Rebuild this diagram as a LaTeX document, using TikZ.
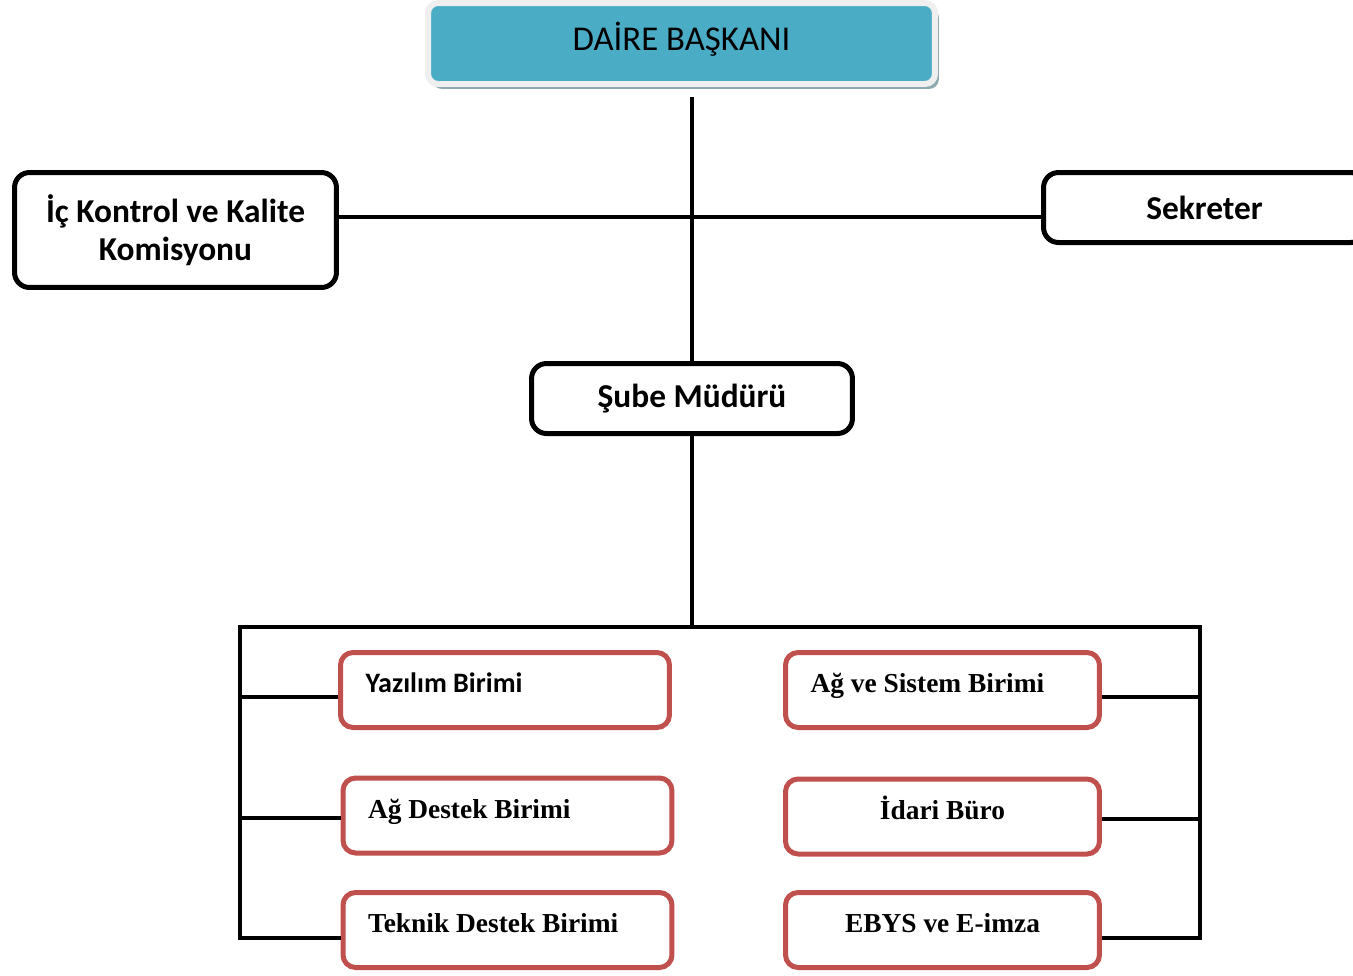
\documentclass[tikz,border=0pt]{standalone}
\usepackage{fontspec}
\setmainfont{Carlito}
\newfontfamily\tnr{Liberation Serif}
\usetikzlibrary{positioning, shadows}

\definecolor{baskanmavi}{HTML}{4BACC6}
\definecolor{birimkirmizi}{HTML}{C0504D}
\definecolor{golge}{HTML}{8FA9B0}
\definecolor{cerceve}{HTML}{EFEFEF}

\tikzset{
  baskan/.style={rectangle, rounded corners=0.2cm, fill=baskanmavi, draw=cerceve,
    line width=0.12cm, minimum width=10.14cm, minimum height=1.62cm,
    drop shadow={shadow xshift=0.08cm, shadow yshift=-0.1cm, fill=golge, opacity=1},
    text height=14pt, text depth=6pt, font=\fontsize{19.8}{24}\selectfont},
  kutu/.style={rectangle, rounded corners=0.3cm, draw=black, fill=white,
    line width=0.1cm, minimum width=6.44cm, minimum height=1.4cm, align=center,
    font=\bfseries\fontsize{19}{22}\selectfont},
  birim/.style={rectangle, rounded corners=0.25cm, draw=birimkirmizi, fill=white,
    line width=0.1cm, minimum width=6.58cm, minimum height=1.5cm, inner xsep=0.5cm,
    text height=8pt, text depth=5pt, font=\tnr\bfseries\fontsize{15.6}{18}\selectfont},
  solda/.style={text width=5.58cm, align=flush left},
  baglanti/.style={line width=0.09cm}
}

\begin{document}
\begin{tikzpicture}[x=0.02cm, y=-0.02cm]
  \useasboundingbox (0,0) rectangle (1353,975);

  % ust kademe
  \node[baskan] (daire) at (681.5,43.5) {DAİRE BAŞKANI};
  \node[kutu, minimum height=2.3cm] (ickontrol) at (175.5,230) {İç Kontrol ve Kalite\\Komisyonu};
  \node[kutu] (sekreter) at (1204.5,207.5) {Sekreter};
  \node[kutu, minimum width=6.42cm] (sube) at (692,398.5) {Şube Müdürü};

  % birimler, sol sutun
  \node[birim, solda, font=\bfseries\fontsize{16}{18}\selectfont] (yazilim) at (505,690) {Yazılım Birimi};
  \node[birim, solda] (agdestek) at (507.5,815.5) {Ağ Destek Birimi};
  \node[birim, solda] (teknik) at (507.5,930) {Teknik Destek Birimi};
  % birimler, sag sutun
  \node[birim, solda, minimum width=6.28cm, text width=5.28cm] (agsistem) at (942.5,690) {Ağ ve Sistem Birimi};
  \node[birim, minimum width=6.28cm] (idari) at (942.5,816.5) {İdari Büro};
  \node[birim, minimum width=6.28cm] (ebys) at (942.5,930) {EBYS ve E-imza};

  % baglanti noktalari
  \coordinate (kavsak) at (692,217);
  \coordinate (altorta) at (692,627);
  \coordinate (solust) at (240,627);
  \coordinate (sagust) at (1200,627);

  % baglantilar
  \draw[baglanti, shorten <=0.2cm] (daire.south -| kavsak) -- (sube.north);
  \draw[baglanti] (ickontrol.east |- kavsak) -- (sekreter.west |- kavsak);
  \draw[baglanti] (sube.south) -- (altorta);
  \draw[baglanti] ([yshift=-0.16cm]teknik.west) -- ([yshift=-0.16cm]teknik.west -| solust) -- (solust)
    -- (sagust) -- ([yshift=-0.16cm]sagust |- ebys.east) -- ([yshift=-0.16cm]ebys.east);
  \draw[baglanti] ([yshift=-0.14cm]yazilim.west) -- ([yshift=-0.14cm]yazilim.west -| solust);
  \draw[baglanti] ([yshift=-0.05cm]agdestek.west) -- ([yshift=-0.05cm]agdestek.west -| solust);
  \draw[baglanti] ([yshift=-0.14cm]agsistem.east) -- ([yshift=-0.14cm]agsistem.east -| sagust);
  \draw[baglanti] ([yshift=-0.05cm]idari.east) -- ([yshift=-0.05cm]idari.east -| sagust);
\end{tikzpicture}
\end{document}
